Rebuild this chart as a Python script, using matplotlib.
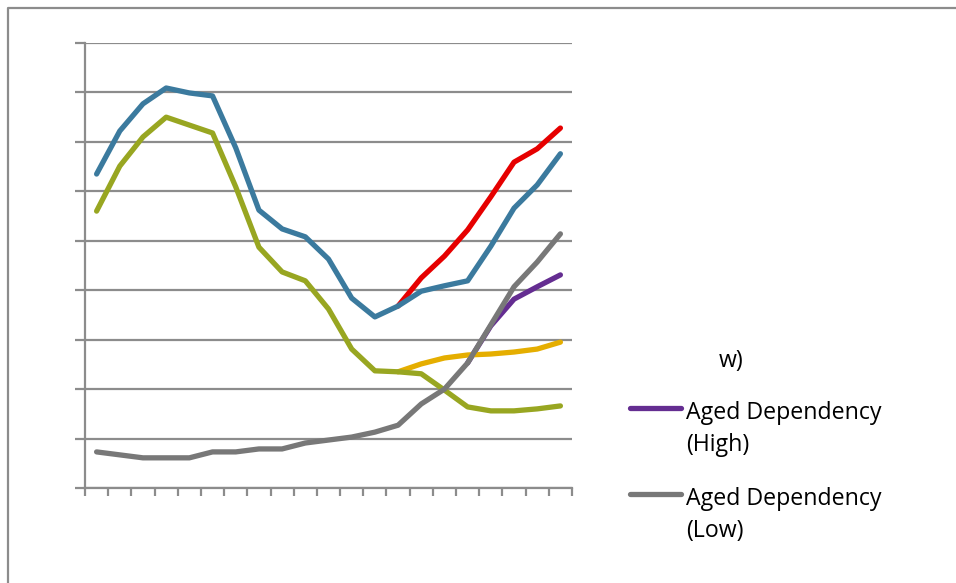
import numpy as np
import matplotlib.pyplot as plt
from matplotlib.lines import Line2D

# categorias (sin etiquetas visibles en el original)
periodos = list(range(21))

azul = [6.35, 7.22, 7.77, 8.09, 7.99, 7.93, 6.88, 5.62, 5.24, 5.08, 4.63,
        3.84, 3.46, 3.68, 3.98, 4.09, 4.19, 4.89, 5.66, 6.13, 6.76]
verde = [5.60, 6.51, 7.10, 7.50, 7.34, 7.18, 6.09, 4.87, 4.37, 4.19, 3.62,
         2.81, 2.37, 2.35, 2.31, 1.98, 1.64, 1.56, 1.56, 1.60, 1.66]
rojo = [3.68, 4.25, 4.69, 5.22, 5.89, 6.59, 6.86, 7.28]          # desde periodo 13
amarillo = [2.35, 2.51, 2.63, 2.69, 2.71, 2.75, 2.81, 2.95]      # desde periodo 13
gris = [0.73, 0.67, 0.61, 0.61, 0.61, 0.73, 0.73, 0.79, 0.79, 0.91, 0.97,
        1.03, 1.13, 1.27, 1.70, 2.00, 2.53, 3.30, 4.07, 4.57, 5.14]
morado = [2.53, 3.28, 3.82, 4.07, 4.31]                          # desde periodo 16

etiquetas = ['Aged Dependency\n(High)', 'Aged Dependency\n(Low)']

W, H = 956, 583
fig = plt.figure(figsize=(W / 100, H / 100), dpi=100)
ax = fig.add_axes([85 / W, 1 - 488 / H, 487 / W, 445 / H])

lw = 3.8
ax.plot(periodos[13:], rojo, color='#E60000', lw=lw, solid_capstyle='round')
ax.plot(periodos[16:], morado, color='#642D91', lw=lw, solid_capstyle='round')
ax.plot(periodos[13:], amarillo, color='#E5AE00', lw=lw, solid_capstyle='round')
ax.plot(periodos, azul, color='#3B7A9E', lw=lw, solid_capstyle='round')
ax.plot(periodos, verde, color='#98A621', lw=lw, solid_capstyle='round')
ax.plot(periodos, gris, color='#787878', lw=lw, solid_capstyle='round')

ax.set_xlim(-0.5, 20.5)
ax.set_ylim(0, 9)
ax.set_yticks(np.arange(0, 10))
ax.set_xticks(np.arange(-0.5, 21, 1))
ax.set_yticklabels([])
ax.set_xticklabels([])
ax.grid(axis='y', color='#8C8C8C', lw=1.6)
ax.set_axisbelow(True)
ax.tick_params(axis='y', direction='out', length=7, width=1.6, color='#8C8C8C')
ax.tick_params(axis='x', direction='out', length=6, width=1.6, color='#8C8C8C')
for s in ['top', 'right']:
    ax.spines[s].set_visible(False)
for s in ['left', 'bottom']:
    ax.spines[s].set_color('#8C8C8C')
    ax.spines[s].set_linewidth(1.6)

# marco exterior (recortado a la derecha y abajo)
fig.add_artist(Line2D([8 / W, 8 / W, 1], [0, 1 - 8 / H, 1 - 8 / H],
                      color='#8C8C8C', lw=1.6, transform=fig.transFigure))

# leyenda (parcialmente visible)
fuente = 'Open Sans'
tam = 16.7
fig.text(719 / W, 1 - 361 / H, 'w)', fontsize=tam, family=fuente, va='center')
for yy, col, txt in [(408, '#642D91', etiquetas[0]), (494, '#787878', etiquetas[1])]:
    fig.add_artist(Line2D([630 / W, 681 / W], [1 - yy / H] * 2, color=col, lw=lw,
                          solid_capstyle='round', transform=fig.transFigure))
    fig.text(686 / W, 1 - (yy - 7) / H, txt, fontsize=tam, family=fuente,
             va='top', linespacing=1.42)

fig.savefig('out.png', dpi=100)
